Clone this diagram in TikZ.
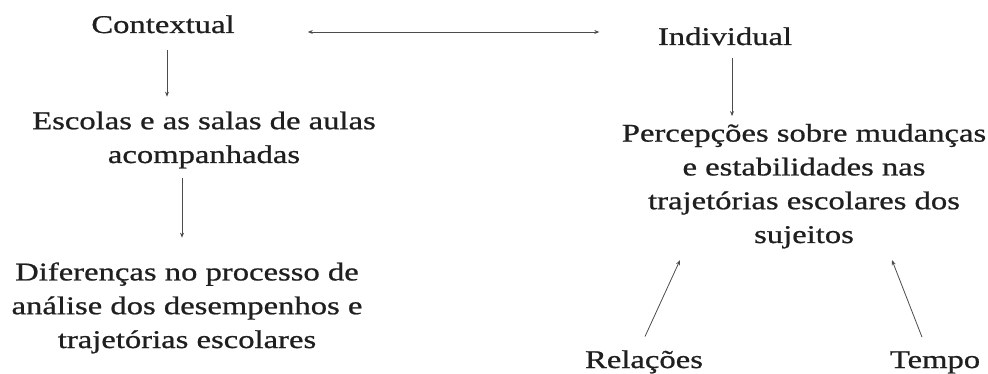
\documentclass[tikz,border=0pt]{standalone}
\usepackage{fontspec}
\setmainfont{Liberation Serif}[FakeStretch=1.28,FakeBold=0.8]
\usetikzlibrary{arrows.meta}
\begin{document}
\begin{tikzpicture}[x=1pt,y=-1pt,
  lbl/.style={inner sep=0pt,anchor=base,align=center,text=black!88,
    font=\fontsize{25.5}{33.8}\selectfont},
  arr/.style={draw=black!70,line width=0.8pt,-{Stealth[length=5pt,width=4pt]}},
  darr/.style={draw=black!70,line width=0.8pt,{Stealth[length=5pt,width=4pt]}-{Stealth[length=5pt,width=4pt]}}]
\useasboundingbox[fill=white] (0,0) rectangle (988,374);
\node[lbl] (ctx) at (163,33) {Contextual};
\node[lbl] (ind) at (725,45) {Individual};
\node[lbl] (esc) at (204,163) {Escolas e as salas de aulas\\acompanhadas};
\node[lbl] (dif) at (187,348) {Diferenças no processo de\\análise dos desempenhos e\\trajetórias escolares};
\node[lbl] (perc) at (804,243) {Percepções sobre mudanças\\e estabilidades nas\\trajetórias escolares dos\\sujeitos};
\node[lbl] (rel) at (644,368) {Relações};
\node[lbl] (tem) at (935,368) {Tempo};
\draw[arr] ([xshift=4pt,yshift=-17pt]ctx.south) -- ([xshift=-37pt,yshift=14.6pt]esc.north);
\draw[arr] ([xshift=-22pt,yshift=-9.5pt]esc.south) -- ([xshift=-5pt,yshift=24.6pt]dif.north);
\draw[darr] ([xshift=73pt,yshift=1pt]ctx.base east) -- ([xshift=-58.4pt,yshift=13pt]ind.base west);
\draw[arr] ([xshift=7pt,yshift=-13pt]ind.south) -- ([xshift=-72pt,yshift=7.6pt]perc.north);
\draw[arr] ([xshift=1pt,yshift=13.6pt]rel.north) -- ([xshift=-124pt,yshift=-11.5pt]perc.south);
\draw[arr] ([xshift=-13pt,yshift=14pt]tem.north) -- ([xshift=88pt,yshift=-11.5pt]perc.south);
\end{tikzpicture}
\end{document}
